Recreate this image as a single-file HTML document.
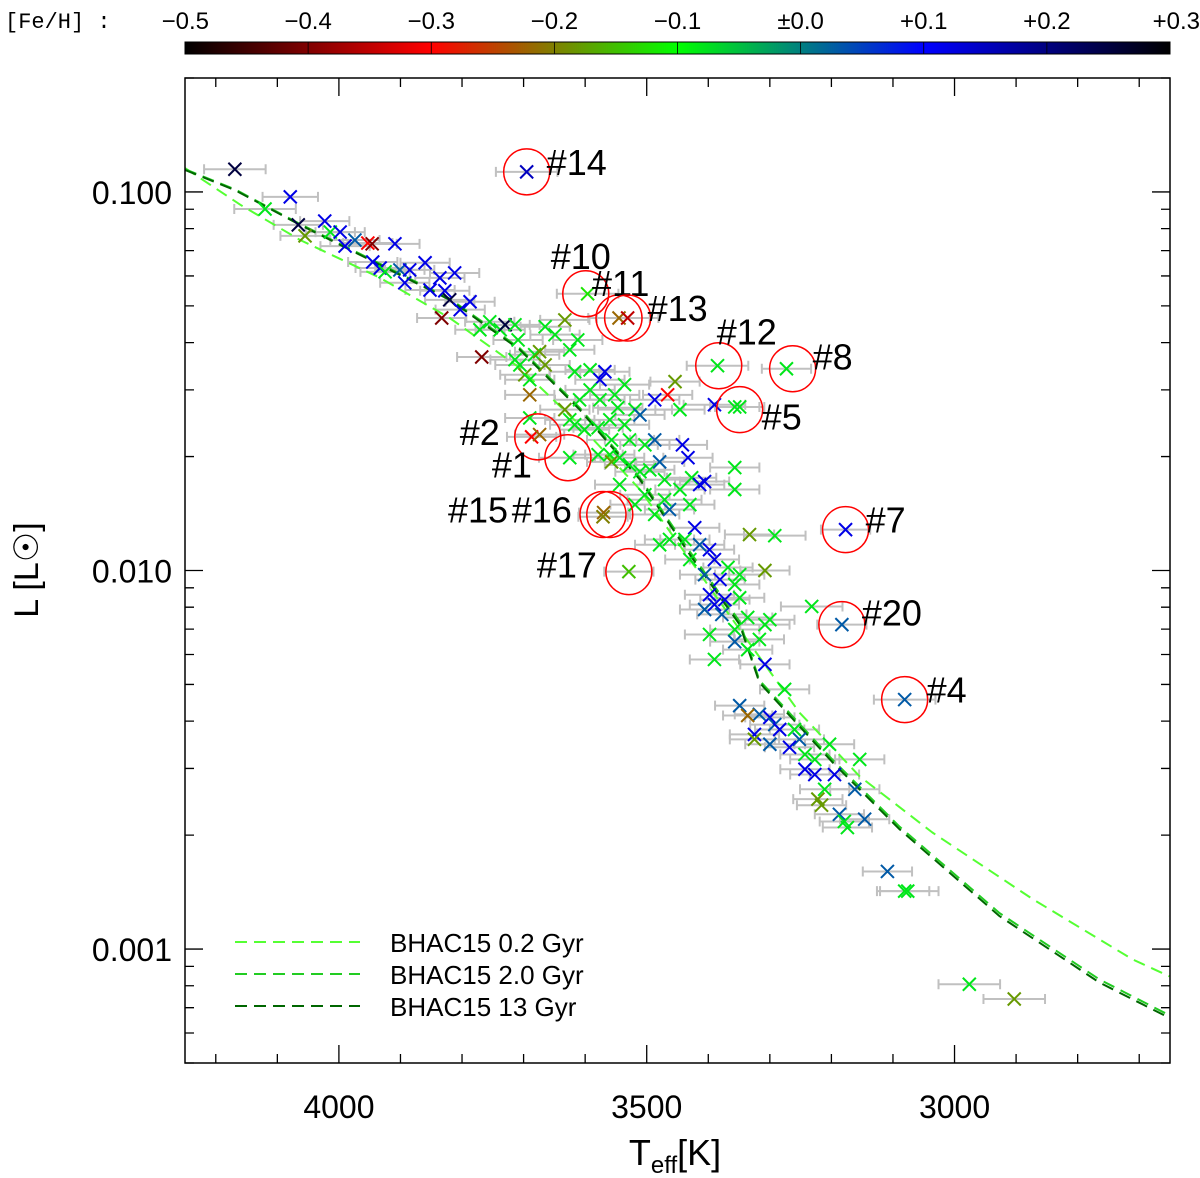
<!DOCTYPE html>
<html><head><meta charset="utf-8"><style>
body{margin:0;background:#fff}
svg{display:block;font-family:"Liberation Sans","DejaVu Sans",sans-serif}
</style></head><body>
<svg id="chart" width="1200" height="1178" viewBox="0 0 1200 1178" xmlns="http://www.w3.org/2000/svg">
<defs><linearGradient id="cbg" x1="0" x2="1" y1="0" y2="0">
<stop offset="0" stop-color="#000"/><stop offset="0.25" stop-color="#ff0000"/><stop offset="0.5" stop-color="#00ff00"/><stop offset="0.75" stop-color="#0000ff"/><stop offset="1" stop-color="#000"/></linearGradient></defs>
<text x="5" y="28" font-size="22" font-family="Liberation Mono, monospace">[Fe/H] :</text>
<rect x="185" y="42" width="985" height="12" fill="url(#cbg)" stroke="#000" stroke-width="1"/>
<g id="cbticks"></g>
<g id="errs"></g><g id="iso"></g><g id="pts"></g><g id="circ"></g><g id="axes"></g>
<rect x="185" y="78" width="985" height="985" fill="none" stroke="#000" stroke-width="1.5"/>
<g>
<line x1="235" y1="942" x2="360" y2="942" stroke="#55ff33" stroke-width="2" stroke-dasharray="12,7"/>
<text x="390" y="952" font-size="26">BHAC15 0.2 Gyr</text>
<line x1="235" y1="974" x2="360" y2="974" stroke="#22cc22" stroke-width="2" stroke-dasharray="12,7"/>
<text x="390" y="984" font-size="26">BHAC15 2.0 Gyr</text>
<line x1="235" y1="1006" x2="360" y2="1006" stroke="#006600" stroke-width="2" stroke-dasharray="12,7"/>
<text x="390" y="1016" font-size="26">BHAC15 13 Gyr</text>
</g>
<text transform="translate(38,570) rotate(-90)" text-anchor="middle" font-size="34">L [L<tspan>☉</tspan>]</text>
<text x="675" y="1165" text-anchor="middle" font-size="36">T<tspan font-size="24" dy="8">eff</tspan><tspan dy="-8">[K]</tspan></text>
</svg>
<script>
const teff=[4169,4079,4120,4066,4055,4023,4014,3998,3990,3974,3953,3946,3909,3945,3933,3925,3901,3893,3885,3860,3852,3836,3828,3820,3812,3833,3803,3787,3771,3755,3738,3730,3714,3709,3706,3698,3682,3674,3665,3649,3633,3625,3612,3768,3714,3690,3690,3665,3617,3592,3576,3568,3592,3609,3576,3552,3536,3519,3547,3560,3536,3511,3487,3466,3454,3446,3633,3625,3617,3601,3579,3557,3528,3503,3487,3690,3560,3579,3557,3544,3528,3511,3495,3479,3471,3442,3433,3427,3414,3406,3446,3471,3503,3544,3519,3487,3463,3430,3422,3438,3414,3398,3390,3463,3479,3430,3406,3381,3368,3349,3357,3398,3390,3373,3349,3406,3378,3357,3336,3300,3308,3398,3357,3336,3317,3390,3308,3333,3292,3308,3357,3357,3232,3349,3317,3336,3276,3300,3292,3284,3325,3260,3252,3268,3243,3227,3203,3300,3325,3243,3227,3195,3154,3162,3211,3222,3216,3187,3179,3174,3146,3109,3081,3076,2976,2903,3390,3357,3349,3273,3385,3596,3545,3531,3687,3674,3570,3571,3529,3177,3183,3081,3695,3625];
const logL=[-0.940,-1.013,-1.045,-1.087,-1.116,-1.077,-1.106,-1.106,-1.143,-1.127,-1.135,-1.137,-1.137,-1.185,-1.201,-1.211,-1.206,-1.240,-1.206,-1.187,-1.259,-1.227,-1.261,-1.285,-1.214,-1.333,-1.311,-1.290,-1.364,-1.343,-1.364,-1.351,-1.351,-1.391,-1.457,-1.483,-1.430,-1.422,-1.356,-1.377,-1.338,-1.417,-1.391,-1.436,-1.443,-1.496,-1.536,-1.457,-1.475,-1.470,-1.496,-1.475,-1.523,-1.549,-1.549,-1.536,-1.509,-1.575,-1.570,-1.602,-1.615,-1.589,-1.549,-1.536,-1.501,-1.575,-1.575,-1.602,-1.615,-1.628,-1.623,-1.655,-1.655,-1.668,-1.655,-1.597,-1.694,-1.694,-1.713,-1.702,-1.721,-1.739,-1.734,-1.713,-1.760,-1.668,-1.702,-1.755,-1.773,-1.765,-1.786,-1.813,-1.800,-1.773,-1.826,-1.852,-1.839,-1.826,-1.887,-1.918,-1.932,-1.945,-1.971,-1.918,-1.932,-1.971,-2.011,-2.024,-1.992,-2.011,-2.037,-2.064,-2.090,-2.077,-2.072,-2.103,-2.116,-2.156,-2.124,-2.130,-2.143,-2.169,-2.188,-2.209,-2.182,-2.235,-2.248,-1.905,-1.908,-2.000,-1.728,-1.786,-2.095,-2.357,-2.380,-2.383,-2.314,-2.388,-2.407,-2.420,-2.433,-2.420,-2.446,-2.467,-2.486,-2.499,-2.459,-2.459,-2.446,-2.525,-2.539,-2.539,-2.499,-2.578,-2.578,-2.604,-2.620,-2.644,-2.663,-2.679,-2.657,-2.795,-2.847,-2.847,-3.093,-3.132,-1.562,-1.568,-1.568,-1.467,-1.459,-1.269,-1.333,-1.333,-1.647,-1.641,-1.847,-1.858,-2.003,-1.892,-2.143,-2.341,-0.947,-1.702];
const feh=[0.25,0.12,-0.08,0.25,-0.18,0.12,-0.08,0.12,0.12,0.03,-0.3,-0.4,0.12,0.12,0.12,-0.08,0.03,0.12,0.12,0.12,0.12,0.12,0.12,0.25,0.12,-0.4,0.12,0.12,-0.08,-0.08,-0.08,0.25,-0.08,-0.08,-0.08,-0.18,-0.08,-0.18,-0.08,-0.08,-0.18,-0.08,-0.08,-0.4,-0.08,-0.08,-0.22,-0.18,-0.08,-0.08,0.12,0.12,-0.08,-0.08,-0.08,-0.08,-0.08,-0.08,-0.08,-0.08,-0.08,0.03,0.12,-0.3,-0.18,-0.08,-0.18,-0.08,-0.08,-0.08,-0.08,-0.08,-0.08,-0.08,0.03,-0.08,-0.08,-0.08,-0.18,-0.08,-0.08,-0.08,-0.08,0.03,-0.08,0.12,0.12,-0.08,0.12,0.12,-0.08,-0.08,-0.08,-0.08,-0.08,-0.08,0.03,-0.08,0.12,-0.08,0.03,0.12,0.12,-0.08,-0.08,-0.08,0.03,0.12,-0.08,-0.08,-0.08,0.12,0.12,0.12,-0.08,0.03,0.03,-0.08,-0.08,-0.08,-0.08,-0.08,0.03,-0.08,-0.08,-0.08,0.12,-0.18,-0.08,-0.18,-0.08,-0.08,-0.08,0.03,0.03,-0.22,-0.08,0.12,0.03,0.12,0.12,-0.08,0.03,0.12,-0.08,-0.08,-0.08,0.03,-0.18,0.12,0.12,0.12,-0.08,0.03,-0.08,-0.18,-0.18,0.03,-0.08,-0.08,0.03,0.03,-0.08,-0.08,-0.08,-0.18,0.12,-0.08,-0.08,-0.08,-0.08,-0.12,-0.22,-0.35,-0.3,-0.22,-0.22,-0.2,-0.15,0.12,0.03,0.03,0.15,-0.08];
const teffErr=[50,45,50,40,40,40,40,40,40,40,40,40,40,40,40,40,40,40,40,40,40,40,40,40,40,40,40,40,40,40,40,40,40,40,40,40,40,40,40,40,40,40,40,40,40,40,40,40,40,40,40,40,40,40,40,40,40,60,40,40,40,40,40,40,40,40,40,40,40,40,40,40,40,40,40,40,40,40,40,40,40,40,40,40,40,40,40,40,40,40,40,60,40,40,40,40,40,40,40,40,40,40,40,40,40,40,40,40,40,40,40,40,40,40,40,40,40,40,40,40,40,40,40,40,40,40,40,40,50,40,40,40,50,40,40,40,40,40,40,40,40,40,40,40,40,40,40,40,40,40,40,40,40,40,40,40,40,40,40,40,40,40,40,50,50,50,50,40,40,40,50,50,50,50,40,40,40,40,40,40,40,50,50,50,50,50];
const isoTeff02=[4250,4160,4063,3933,3820,3706,3609,3511,3430,3349,3252,3154,3036,2873,2711,2651];
const isoLogL02=[-0.937,-1.034,-1.127,-1.227,-1.333,-1.465,-1.615,-1.786,-1.971,-2.156,-2.375,-2.544,-2.692,-2.868,-3.027,-3.072];
const isoTeff2=[4250,4169,4063,3933,3820,3706,3609,3511,3430,3349,3317,3198,3089,2927,2765,2651];
const isoLogL2=[-0.940,-0.993,-1.085,-1.190,-1.282,-1.413,-1.570,-1.755,-1.950,-2.135,-2.290,-2.500,-2.677,-2.905,-3.080,-3.175];
const isoTeff13=[4250,4169,4063,3933,3820,3706,3609,3511,3430,3349,3317,3198,3089,2927,2765,2651];
const isoLogL13=[-0.942,-0.995,-1.087,-1.193,-1.285,-1.417,-1.575,-1.760,-1.958,-2.143,-2.296,-2.507,-2.684,-2.913,-3.088,-3.182];
const circTeff=[3695,3599,3545,3531,3383,3263,3349,3677,3628,3571,3560,3529,3177,3183,3081];
const circLogL=[-0.947,-1.269,-1.333,-1.333,-1.459,-1.467,-1.575,-1.647,-1.702,-1.852,-1.852,-2.003,-1.892,-2.143,-2.341];
const circLabels=["#14","#10","#11","#13","#12","#8","#5","#2","#1","#15","#16","#17","#7","#20","#4"];
const labDx=[20,-35,-27,20,-2,20,22,-78,-76,-155,-98,-92,20,20,22];
const labDy=[-10,-38,-35,-10,-34,-12,7,-5,7,-5,-5,-7,-10,-12,-10];
const cbTicks=["−0.5","−0.4","−0.3","−0.2","−0.1","±0.0","+0.1","+0.2","+0.3"];
const xTicks=[4000,3500,3000];
const yTicks=[0.001,0.01,0.1];
const yTickLabels=["0.001","0.010","0.100"];

const NS="http://www.w3.org/2000/svg";
const X0=185,X1=1170,Y0=78,Y1=1063,TMAX=4250,TMIN=2650,LTOP=Math.log10(0.2),LBOT=Math.log10(0.0005);
function xs(t){return X0+(TMAX-t)/(TMAX-TMIN)*(X1-X0);}
function ys(l){return Y0+(LTOP-l)/(LTOP-LBOT)*(Y1-Y0);}
function mk(tag,attrs,parent){const e=document.createElementNS(NS,tag);for(const k in attrs)e.setAttribute(k,attrs[k]);parent.appendChild(e);return e;}
function cmap(v){const st=[[-0.5,0,0,0],[-0.3,255,0,0],[-0.1,0,255,0],[0.1,0,0,255],[0.3,0,0,0]];
 v=Math.max(-0.5,Math.min(0.3,v));for(let i=0;i<4;i++){const a=st[i],b=st[i+1];if(v<=b[0]){const f=(v-a[0])/(b[0]-a[0]);return `rgb(${Math.round(a[1]+f*(b[1]-a[1]))},${Math.round(a[2]+f*(b[2]-a[2]))},${Math.round(a[3]+f*(b[3]-a[3]))})`;}}return "#000";}

const cbt=document.getElementById('cbticks');
cbTicks.forEach((s,i)=>{const x=X0+i*(X1-X0)/(cbTicks.length-1);
 const t=mk('text',{x:x,y:29,'text-anchor':i==0?'end':(i==cbTicks.length-1?'end':'middle'),'font-size':24},cbt);
 if(i==0)t.setAttribute('x',x+24);if(i==cbTicks.length-1)t.setAttribute('x',x+30);
 
 
 t.textContent=s;
 const l=mk('line',{x1:x,y1:42,x2:x,y2:54,stroke:'#000','stroke-width':0.8},cbt);
 
 });

const eg=document.getElementById('errs');
teff.forEach((t,i)=>{const y=ys(logL[i]),xa=xs(t+teffErr[i]),xb=xs(t-teffErr[i]);
 const p=mk('path',{d:`M${xa},${y}H${xb}M${xa},${y-5}V${y+5}M${xb},${y-5}V${y+5}`,stroke:'#c0c0c0','stroke-width':2,fill:'none'},eg);
 
 });

const ig=document.getElementById('iso');
[[isoTeff02,isoLogL02,'#55ff33','isochrone-0.2gyr'],[isoTeff2,isoLogL2,'#22cc22','isochrone-2gyr'],[isoTeff13,isoLogL13,'#006600','isochrone-13gyr']].forEach(s=>{
 let d='';s[0].forEach((t,i)=>{d+=(i?'L':'M')+xs(t).toFixed(1)+','+ys(s[1][i]).toFixed(1);});
 const p=mk('path',{d:d,stroke:s[2],'stroke-width':2,fill:'none','stroke-dasharray':'12,7','stroke-linejoin':'round'},ig);
 
 });

const pg=document.getElementById('pts');
teff.forEach((t,i)=>{const x=xs(t),y=ys(logL[i]),r=6.5;
 const p=mk('path',{d:`M${x-r},${y-r}L${x+r},${y+r}M${x-r},${y+r}L${x+r},${y-r}`,stroke:cmap(feh[i]),'stroke-width':2,fill:'none'},pg);
 
 });

const cg=document.getElementById('circ');
circTeff.forEach((t,i)=>{const x=xs(t),y=ys(circLogL[i]);
 const c=mk('circle',{cx:x,cy:y,r:23,fill:'none',stroke:'#ff0000','stroke-width':1.5},cg);
 
 
 const tx=mk('text',{x:x+labDx[i],y:y+labDy[i]+13,'font-size':36},cg);
 
 
 tx.textContent=circLabels[i];});

const ag=document.getElementById('axes');
let d='';
for(let t=4200;t>=2700;t-=100){const x=xs(t);const L=(t%500==0)?18:9;d+=`M${x},${Y1}V${Y1-L}M${x},${Y0}V${Y0+L}`;}
for(let e=-4;e<=-1;e++)for(let k=1;k<10;k++){const l=Math.log10(k)+e;if(l>LTOP||l<LBOT)continue;const y=ys(l);const L=k==1?18:9;d+=`M${X0},${y}H${X0+L}M${X1},${y}H${X1-L}`;}
const tp=mk('path',{d:d,stroke:'#000','stroke-width':1.3,fill:'none'},ag);


xTicks.forEach(t=>{const tx=mk('text',{x:xs(t),y:1118,'text-anchor':'middle','font-size':32},ag);
 
 
 tx.textContent=t;});
yTicks.forEach((v,i)=>{const tx=mk('text',{x:172,y:ys(Math.log10(v))+12,'text-anchor':'end','font-size':32},ag);
 
 
 tx.textContent=yTickLabels[i];});
</script>
</body></html>
